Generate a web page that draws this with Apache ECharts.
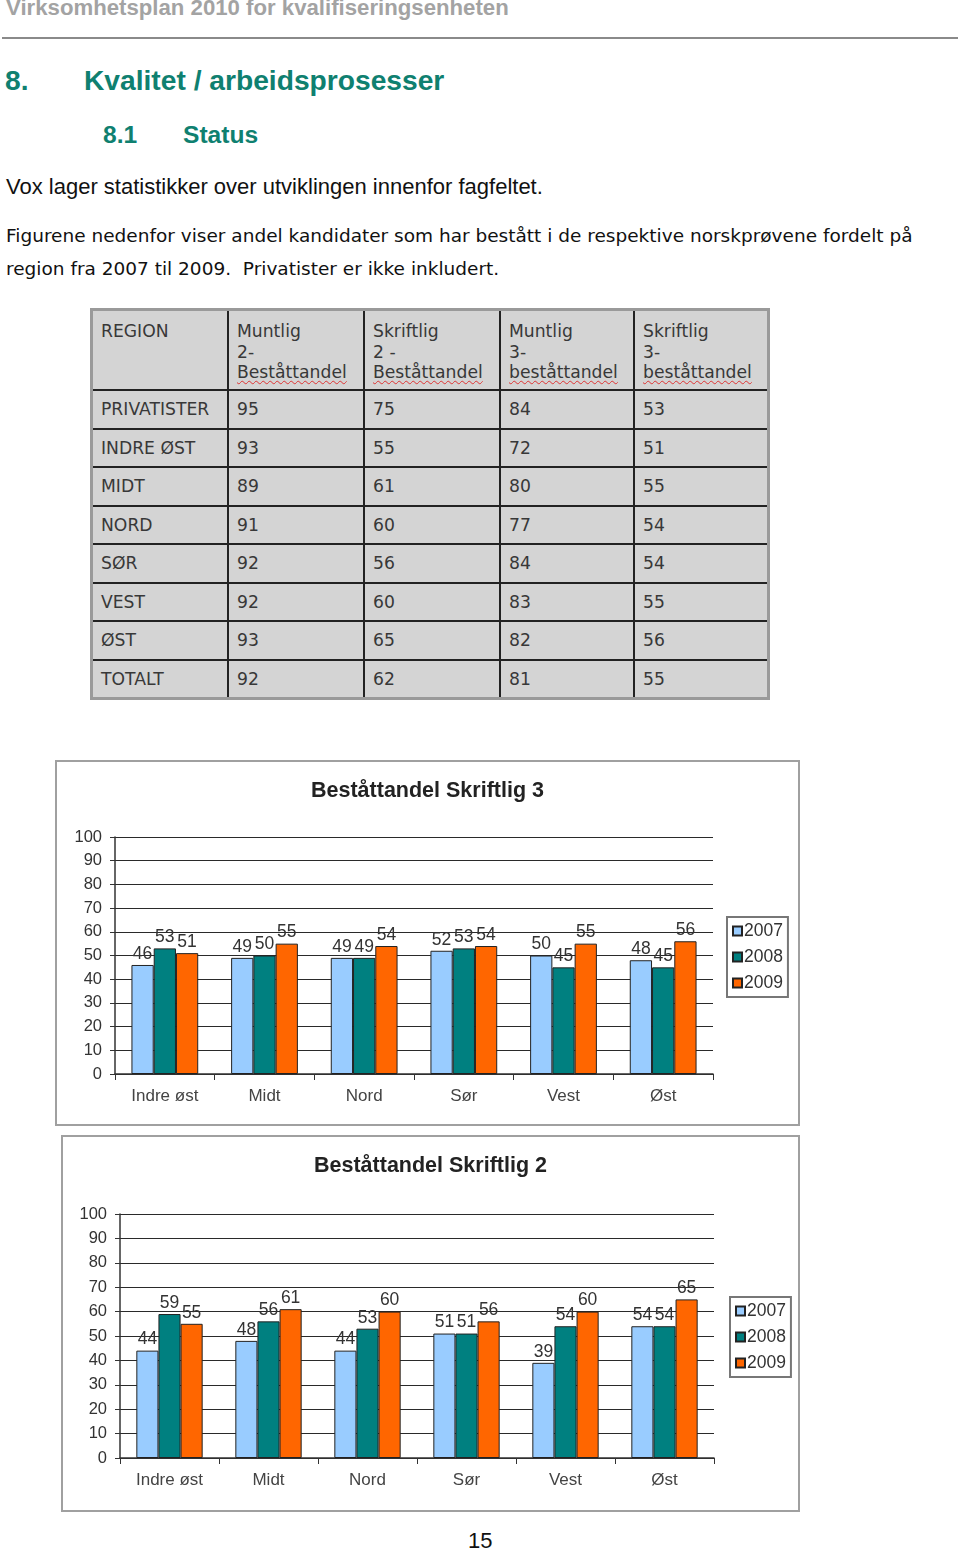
<!DOCTYPE html>
<html><head><meta charset="utf-8">
<script src="https://cdn.jsdelivr.net/npm/echarts@6/dist/echarts.min.js"></script>
<style>
html,body{margin:0;padding:0;background:#fff;}
body{width:960px;height:1549px;position:relative;overflow:hidden;font-family:"Liberation Sans",Arial,sans-serif;}
.abs{position:absolute;white-space:nowrap;line-height:1;}
#hdr{left:6px;top:-3px;font-size:22.2px;font-weight:bold;color:#a3a3a3;}
#rule{left:2px;top:37px;width:956px;height:0;border-top:2px solid #8a8a8a;}
.h1{font-size:28.2px;font-weight:bold;color:#0f8070;}
.h2{font-size:24.6px;font-weight:bold;color:#0f8070;}
#p1{left:6px;top:176px;font-size:22px;color:#111;}
.p2{font-family:"DejaVu Sans",Verdana,sans-serif;font-size:18.5px;color:#111;}
#tbl{position:absolute;left:90px;top:308px;width:680px;table-layout:fixed;border-collapse:separate;border-spacing:0;background:#d4d4d4;border:3px solid #9a9a9a;font-family:"DejaVu Sans",Verdana,sans-serif;font-size:17.2px;color:#383838;box-sizing:border-box;}
#tbl td{border-right:2px solid #222;border-bottom:2px solid #222;padding:0 0 0 8px;vertical-align:middle;height:36.5px;overflow:hidden;white-space:nowrap;}
#tbl tr td:last-child{border-right:none;}
#tbl tr:last-child td{border-bottom:none;}
#tbl tr.head td{vertical-align:top;height:80px;padding-top:10px;line-height:20.5px;box-sizing:border-box;}
.sp{text-decoration:underline wavy #d33;text-decoration-thickness:1px;text-underline-offset:2px;}
.box{position:absolute;border:2px solid #a0a0a0;box-sizing:border-box;background:#fff;}
#pg{left:468px;top:1530px;font-size:22px;color:#111;}
</style></head><body>
<div class="abs" id="hdr">Virksomhetsplan 2010 for kvalifiseringsenheten</div>
<div class="abs" id="rule"></div>
<div class="abs h1" style="left:5px;top:66px;">8.</div>
<div class="abs h1" style="left:84px;top:66px;">Kvalitet / arbeidsprosesser</div>
<div class="abs h2" style="left:103px;top:123px;">8.1</div>
<div class="abs h2" style="left:183px;top:123px;">Status</div>
<div class="abs" id="p1">Vox lager statistikker over utviklingen innenfor fagfeltet.</div>
<div class="abs p2" style="left:6px;top:227px;">Figurene nedenfor viser andel kandidater som har bestått i de respektive norskprøvene fordelt på</div>
<div class="abs p2" style="left:6px;top:260px;">region fra 2007 til 2009.&nbsp; Privatister er ikke inkludert.</div>
<table id="tbl"></table>
<div class="box" id="c1" style="left:55px;top:760px;width:745px;height:366px;"></div>
<div class="box" id="c2" style="left:61px;top:1135px;width:739px;height:377px;"></div>
<div class="abs" id="pg">15</div>
<script>
// ---- table data ----
const tableHeader = ["REGION", "Muntlig<br>2-<br><span class='sp'>Beståttandel</span>", "Skriftlig<br>2 -<br><span class='sp'>Beståttandel</span>", "Muntlig<br>3-<br><span class='sp'>beståttandel</span>", "Skriftlig<br>3-<br><span class='sp'>beståttandel</span>"];
const tableRegions = ["PRIVATISTER", "INDRE ØST", "MIDT", "NORD", "SØR", "VEST", "ØST", "TOTALT"];
const muntlig2 = [95, 93, 89, 91, 92, 92, 93, 92];
const skriftlig2 = [75, 55, 61, 60, 56, 60, 65, 62];
const muntlig3 = [84, 72, 80, 77, 84, 83, 82, 81];
const skriftlig3 = [53, 51, 55, 54, 54, 55, 56, 55];

// ---- chart data ----
const categories = ["Indre øst", "Midt", "Nord", "Sør", "Vest", "Øst"];
const years = ["2007", "2008", "2009"];
const s3_2007 = [46, 49, 49, 52, 50, 48];
const s3_2008 = [53, 50, 49, 53, 45, 45];
const s3_2009 = [51, 55, 54, 54, 55, 56];
const s2_2007 = [44, 48, 44, 51, 39, 54];
const s2_2008 = [59, 56, 53, 51, 54, 54];
const s2_2009 = [55, 61, 60, 56, 60, 65];
const yTicks = [0, 10, 20, 30, 40, 50, 60, 70, 80, 90, 100];

// build table
const widths = [136, 136, 136, 134, 132];
let html = "<colgroup>" + widths.map(w => "<col style='width:" + w + "px'>").join("") + "</colgroup>";
html += "<tr class='head'>" + tableHeader.map(h => "<td>" + h + "</td>").join("") + "</tr>";
tableRegions.forEach((r, i) => {
  html += "<tr><td>" + r + "</td><td>" + muntlig2[i] + "</td><td>" + skriftlig2[i] + "</td><td>" + muntlig3[i] + "</td><td>" + skriftlig3[i] + "</td></tr>";
});
document.getElementById("tbl").innerHTML = html;

const colors = ["#99ccff", "#008080", "#ff6600"];
function makeChart(el, title, d, g, lg) {
  const chart = echarts.init(document.getElementById(el), null, {renderer: "canvas"});
  const font = "Liberation Sans";
  chart.setOption({
    animation: false,
    backgroundColor: "#fff",
    textStyle: {fontFamily: font},
    title: {text: title, left: "center", top: g.titleTop, textStyle: {fontSize: 21.5, fontWeight: "bold", color: "#222", fontFamily: font}},
    legend: {
      orient: "vertical", left: lg.left, top: lg.top, data: years,
      icon: "rect", itemWidth: 9, itemHeight: 9, itemGap: 8,
      borderColor: "#777", borderWidth: 2, padding: [5, 5, 5, 5],
      textStyle: {fontSize: 17.5, color: "#333", fontFamily: font, padding: [0, 0, 0, -3]}
    },
    grid: {left: g.left, right: g.right, top: g.top, bottom: g.bottom},
    xAxis: {
      type: "category", data: categories,
      axisLine: {lineStyle: {color: "#333", width: 1.5}},
      axisTick: {show: true, length: 6, lineStyle: {color: "#333"}},
      axisLabel: {fontSize: 17, color: "#444", margin: 14, fontFamily: font}
    },
    yAxis: {
      type: "value", min: 0, max: 100, interval: 10,
      axisLine: {show: true, lineStyle: {color: "#333", width: 1.5}},
      axisTick: {show: true, length: 5, lineStyle: {color: "#333"}},
      axisLabel: {fontSize: 16.5, color: "#333", margin: 13, fontFamily: font,
        formatter: v => yTicks.includes(v) ? String(v) : ""},
      splitLine: {lineStyle: {color: "#2a2a2a", width: 1}}
    },
    series: d.map((vals, i) => ({
      name: years[i], type: "bar", data: vals,
      barGap: "0%", barCategoryGap: "33%",
      itemStyle: {color: colors[i], borderColor: "#222", borderWidth: 1},
      label: {show: true, position: "top", distance: 2, fontSize: 17.5, color: "#333", fontFamily: font}
    }))
  });
}
makeChart("c1", "Beståttandel Skriftlig 3", [s3_2007, s3_2008, s3_2009],
  {left: 58, right: 85, top: 75, bottom: 50, titleTop: 13},
  {left: 670, top: 155});
makeChart("c2", "Beståttandel Skriftlig 2", [s2_2007, s2_2008, s2_2009],
  {left: 57, right: 84, top: 77, bottom: 52, titleTop: 13},
  {left: 667, top: 160});
</script>
</body></html>
